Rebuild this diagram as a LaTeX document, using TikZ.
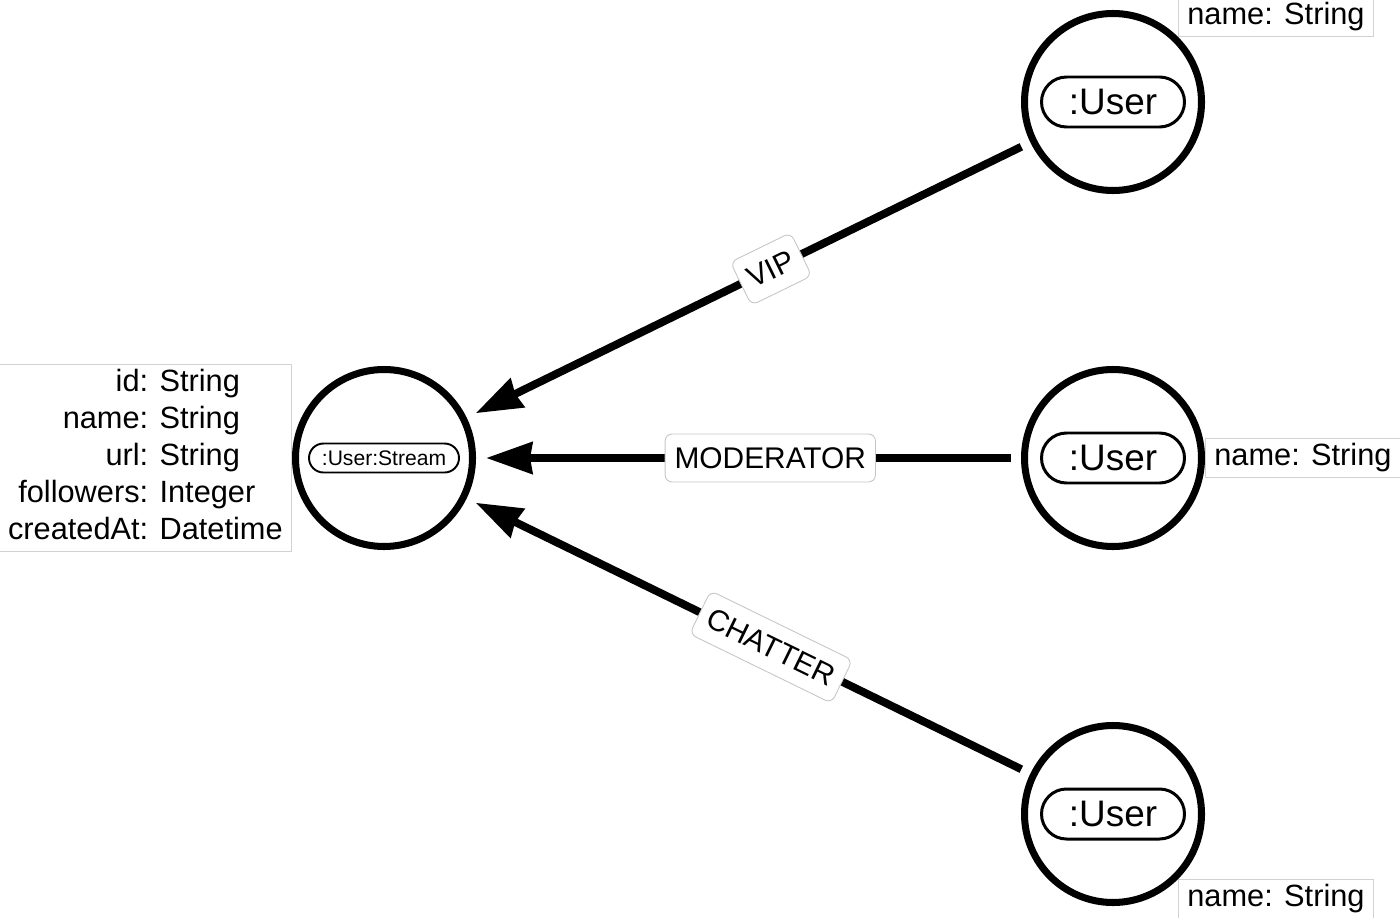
\documentclass[tikz,border=0pt]{standalone}
\usepackage{fontspec}
\setmainfont{Liberation Sans}
\usetikzlibrary{arrows.meta,positioning,shapes.misc}

\begin{document}
\begin{tikzpicture}[>={Stealth[length=9.2mm,width=6.2mm,inset=0.4mm]},
                    shorten >=2mm,shorten <=2mm,node distance=14.58cm,on grid]
  \tikzstyle{entity}=[circle,draw,line width=4pt,minimum size=3.54cm,outer sep=2pt,fill=white]
  \tikzstyle{tag}=[rounded rectangle,draw,line width=1.7pt,minimum width=2.86cm,minimum height=1cm,inner sep=0pt,font=\fontsize{21}{25}\selectfont]
  \tikzstyle{smalltag}=[tag,line width=1.1pt,minimum width=3cm,minimum height=0.58cm,font=\fontsize{12}{14}\selectfont]
  \tikzstyle{props}=[draw=gray!35,line width=0.6pt,fill=white,inner xsep=5pt,inner ysep=0.5pt,font=\fontsize{17.5}{21}\selectfont]
  \tikzstyle{rel}=[fill=white,draw=gray!45,line width=0.5pt,rounded corners=4pt,inner xsep=5.4pt,inner ysep=0pt,minimum height=0.96cm,font=\fontsize{17}{20}\selectfont,sloped,pos=0.46]

  \useasboundingbox (0,0) rectangle (28,-18.36);
  \clip (0,0) rectangle (28,-18.36);

  \node[entity]        (stream)    at (7.68,-9.16)        {};
  \node[smalltag]      (streamtag) at (stream)            {:User:Stream};
  \node[entity]        (moduser)   [right=of stream]      {};
  \node[tag]           (modtag)    at (moduser)           {:User};
  \node[entity]        (vipuser)   [above=7.12cm of moduser] {};
  \node[tag]           (viptag)    at (vipuser)           {:User};
  \node[entity]        (chatuser)  [below=7.12cm of moduser] {};
  \node[tag]           (chattag)   at (chatuser)          {:User};

  % property lists
  \node[props,anchor=east]       (streamprops) at (stream.west)
    {\begin{tabular}{@{}r@{: }l@{}}id&String\\name&String\\url&String\\followers&Integer\\createdAt&Datetime\end{tabular}};
  \node[props,anchor=south west] (vipprops)  at (vipuser.north east)
    {\begin{tabular}{@{}r@{: }l@{}}name&String\end{tabular}};
  \node[props,anchor=west]       (modprops)  at (moduser.east)
    {\begin{tabular}{@{}r@{: }l@{}}name&String\end{tabular}};
  \node[props,anchor=north west] (chatprops) at (chatuser.south east)
    {\begin{tabular}{@{}r@{: }l@{}}name&String\end{tabular}};

  \path[->,line width=4.5pt]
        (vipuser)  edge node[rel] {VIP}       (stream)
        (moduser)  edge node[rel] {MODERATOR} (stream)
        (chatuser) edge node[rel] {CHATTER}   (stream);

\end{tikzpicture}
\end{document}
